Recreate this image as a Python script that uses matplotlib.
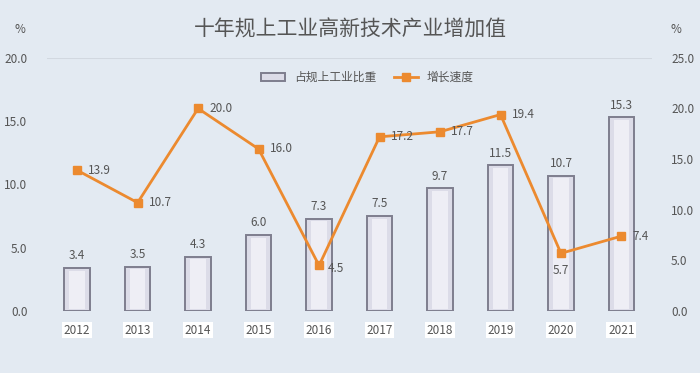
import numpy as np
import matplotlib.pyplot as plt

plt.rcParams['font.family'] = ['Noto Sans CJK SC', 'DejaVu Sans']

years = ['2012', '2013', '2014', '2015', '2016', '2017', '2018', '2019', '2020', '2021']
share = [3.4, 3.5, 4.3, 6.0, 7.3, 7.5, 9.7, 11.5, 10.7, 15.3]
growth = [13.9, 10.7, 20.0, 16.0, 4.5, 17.2, 17.7, 19.4, 5.7, 7.4]

bg = '#e3eaf2'
orange = '#ec8a2f'
txt = '#555555'

fig = plt.figure(figsize=(7, 3.73), dpi=100, facecolor=bg)
ax = fig.add_axes([0.067, 0.166, 0.864, 0.679])
ax.set_facecolor('none')
ax2 = ax.twinx()

x = np.arange(len(years))
bars = ax.bar(x, share, width=0.42, color='#dcdce8', edgecolor='#7e7e8e',
              linewidth=1.4, label='占规上工业比重', zorder=2)
# lighter inner face for a bevelled look
ax.bar(x, [v - 0.35 for v in share], bottom=0.15, width=0.26, color='#eeeef5',
       edgecolor='none', zorder=3)
for xi, v in zip(x, share):
    ax.text(xi, v + 0.45, f'{v:.1f}', ha='center', va='bottom',
            fontsize=8.5, color=txt, zorder=5)

ax.set_xlim(-0.5, len(years) - 0.5)
ax.set_ylim(0, 20)
ax.set_yticks([0, 5, 10, 15, 20])
ax.set_yticklabels([f'{v:.1f}' for v in [0, 5, 10, 15, 20]])
ax.set_xticks(x)
ax.set_xticklabels(years)
for lab in ax.get_xticklabels():
    lab.set_bbox(dict(facecolor='white', edgecolor='none', pad=1.5))
ax.tick_params(axis='x', length=0, pad=9, labelsize=8.5, labelcolor=txt)
ax.tick_params(axis='y', length=0, pad=14, labelsize=8.5, labelcolor=txt)
ax.axhline(20, color='#d2d8e0', linewidth=0.8, zorder=0)

line, = ax2.plot(x, growth, color=orange, linewidth=2, marker='s',
                 markersize=6, label='增长速度', zorder=4)
ax2.set_ylim(0, 25)
ax2.set_yticks([0, 5, 10, 15, 20, 25])
ax2.set_yticklabels([f'{v:.1f}' for v in [0, 5, 10, 15, 20, 25]])
ax2.tick_params(axis='y', length=0, pad=14, labelsize=8.5, labelcolor=txt)

offsets = {4: (6, -2, 'left', 'center'), 8: (0, -8, 'center', 'top')}
for i, v in enumerate(growth):
    dx, dy, ha, va = offsets.get(i, (8, 0, 'left', 'center'))
    ax2.annotate(f'{v:.1f}', (x[i], v), xytext=(dx, dy), textcoords='offset points',
                 ha=ha, va=va, fontsize=8.5, color=txt, zorder=6)

for a in (ax, ax2):
    for s in a.spines.values():
        s.set_visible(False)

ax2.legend([bars, line], ['占规上工业比重', '增长速度'], loc='upper center',
           bbox_to_anchor=(0.53, 0.99), ncol=2, frameon=False, fontsize=8.5,
           labelcolor=txt, handlelength=2.0, columnspacing=1.5)

fig.text(0.5, 0.92, '十年规上工业高新技术产业增加值', ha='center', va='center',
         fontsize=15, color='#555555')
fig.text(0.028, 0.92, '%', ha='center', va='center', fontsize=8.5, color=txt)
fig.text(0.966, 0.92, '%', ha='center', va='center', fontsize=8.5, color=txt)

fig.savefig('out.png', dpi=100, facecolor=bg)
